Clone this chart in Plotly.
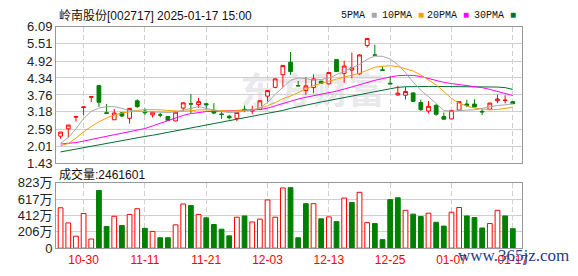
import plotly.graph_objects as go

dates = ["10-25","10-28","10-29","10-30","10-31","11-01","11-04","11-05","11-06","11-07",
         "11-08","11-11","11-12","11-13","11-14","11-15","11-18","11-19","11-20","11-21",
         "11-22","11-25","11-26","11-27","11-28","11-29","12-02","12-03","12-04","12-05",
         "12-06","12-09","12-10","12-11","12-12","12-13","12-16","12-17","12-18","12-19",
         "12-20","12-23","12-24","12-25","12-26","12-27","12-30","12-31","01-02","01-03",
         "01-06","01-07","01-08","01-09","01-10","01-13","01-14","01-15","01-16","01-17"]

opens  = [2.35,2.60,3.00,3.33,3.68,4.08,3.15,2.91,3.15,2.96,
          3.56,3.21,3.08,3.08,3.02,2.87,3.31,3.46,3.43,3.46,
          3.23,3.11,3.03,2.96,3.27,3.21,3.26,3.72,4.02,4.45,
          4.88,4.08,3.91,4.01,4.23,4.14,4.97,4.50,4.61,4.48,
          5.45,5.13,4.62,4.16,3.76,3.75,3.83,3.50,3.21,3.40,
          3.02,2.94,3.24,3.45,3.45,3.20,3.27,3.56,3.57,3.53]
highs  = [2.49,2.73,3.03,3.35,3.70,4.08,3.45,3.28,3.16,3.31,
          3.61,3.30,3.18,3.15,3.03,3.18,3.50,3.79,3.66,3.48,
          3.48,3.18,3.08,3.17,3.40,3.39,3.57,3.92,4.32,4.78,
          5.23,4.24,4.37,4.46,4.24,4.54,4.99,4.93,5.21,5.15,
          5.70,5.48,4.74,4.40,4.07,4.03,3.84,3.60,3.55,3.45,
          3.16,3.24,3.54,3.60,3.61,3.27,3.50,3.77,3.75,3.55]
lows   = [2.26,2.30,2.85,3.07,3.51,3.35,3.13,2.91,3.00,2.78,
          3.32,3.07,2.99,2.99,2.88,2.86,3.21,3.14,3.32,3.27,
          3.10,2.94,2.92,2.86,3.17,3.10,3.24,3.53,3.99,4.02,
          4.45,4.07,3.77,3.82,4.14,4.12,4.55,4.18,4.33,4.45,
          5.38,5.12,4.58,4.13,3.73,3.60,3.53,3.21,3.13,3.05,
          2.93,2.93,3.23,3.34,3.34,3.07,3.26,3.48,3.47,3.45]
closes = [2.49,2.73,3.02,3.35,3.70,3.51,3.13,3.14,3.04,3.30,
          3.36,3.15,3.17,3.07,2.89,3.17,3.49,3.45,3.53,3.42,
          3.14,3.09,2.98,3.16,3.24,3.26,3.56,3.91,4.31,4.77,
          4.56,4.07,4.07,4.31,4.16,4.53,4.56,4.75,4.69,5.13,
          5.69,5.12,4.60,4.14,3.82,3.88,3.54,3.26,3.37,3.10,
          2.93,3.23,3.53,3.40,3.35,3.18,3.48,3.62,3.58,3.46]

ma5  = [2.11,2.30,2.60,2.95,3.20,3.31,3.36,3.36,3.30,3.23,
        3.20,3.19,3.18,3.17,3.16,3.18,3.24,3.32,3.36,3.30,
        3.24,3.19,3.16,3.17,3.21,3.24,3.32,3.50,3.78,4.03,
        4.26,4.34,4.32,4.27,4.29,4.34,4.46,4.58,4.68,4.80,
        4.98,5.09,5.08,4.99,4.80,4.52,4.20,3.92,3.70,3.45,
        3.23,3.20,3.23,3.24,3.25,3.30,3.36,3.40,3.42,3.46]
ma10 = [2.02,2.10,2.28,2.50,2.68,2.84,2.97,3.07,3.14,3.19,
        3.23,3.26,3.26,3.25,3.23,3.21,3.20,3.22,3.25,3.25,
        3.23,3.21,3.21,3.22,3.23,3.25,3.31,3.39,3.50,3.63,
        3.72,3.84,3.98,4.08,4.16,4.22,4.30,4.37,4.43,4.50,
        4.60,4.71,4.74,4.76,4.73,4.66,4.58,4.44,4.26,4.10,
        3.88,3.64,3.48,3.38,3.31,3.27,3.25,3.26,3.30,3.34]
ma20 = [2.08,2.10,2.13,2.18,2.24,2.29,2.34,2.40,2.45,2.50,
        2.55,2.61,2.70,2.79,2.88,2.97,3.06,3.12,3.16,3.19,
        3.20,3.21,3.21,3.21,3.22,3.23,3.26,3.31,3.39,3.48,
        3.56,3.62,3.68,3.73,3.78,3.83,3.89,3.96,4.04,4.11,
        4.18,4.26,4.32,4.38,4.42,4.43,4.43,4.39,4.32,4.25,
        4.19,4.15,4.12,4.09,4.05,4.01,3.95,3.88,3.81,3.74]
ma30 = [1.81,1.86,1.91,1.96,2.01,2.05,2.10,2.14,2.19,2.24,
        2.29,2.34,2.38,2.43,2.47,2.52,2.57,2.62,2.67,2.72,
        2.76,2.81,2.86,2.91,2.96,3.01,3.06,3.11,3.17,3.23,
        3.30,3.36,3.42,3.47,3.52,3.57,3.62,3.67,3.73,3.78,
        3.84,3.89,3.93,3.98,4.02,4.04,4.05,4.05,4.05,4.05,
        4.05,4.05,4.05,4.05,4.05,4.05,4.04,4.03,4.01,3.95]

# volume in 万 shares
volumes = [509,318,151,437,115,728,274,402,286,425,
           497,250,211,131,131,294,557,537,425,382,
           298,239,155,390,406,330,366,608,390,759,
           763,131,561,561,370,394,334,632,577,704,
           322,310,107,612,636,477,429,398,441,326,
           278,453,513,406,386,254,310,477,406,246]
vol_up = [1,1,1,1,1,0,0,1,0,1,
          1,0,1,0,0,1,1,0,1,0,
          0,0,0,1,0,1,1,1,1,1,
          0,0,0,1,0,1,0,1,0,1,
          1,0,0,0,0,1,0,0,1,0,
          0,1,1,0,0,0,1,1,0,0]

price_ticks = [1.43, 2.01, 2.59, 3.18, 3.76, 4.34, 4.92, 5.51, 6.09]
price_ticktext = ["1.43", "2.01", "2.59", "3.18", "3.76", "4.34", "4.92", "5.51", "6.09"]
vol_ticks = [0, 206, 412, 617, 823]
vol_ticktext = ["0", "206万", "412万", "617万", "823万"]
date_ticks = ["10-30", "11-11", "11-21", "12-03", "12-13", "12-25", "01-07", "01-17"]

title_text = "岭南股份[002717] 2025-01-17 15:00"
vol_label = "成交量:2461601"
ma_names = ["5PMA", "10PMA", "20PMA", "30PMA"]
ma_colors = ["#a6a6a6", "#f5a000", "#ff00ff", "#006e32"]

RED = "#ff0000"
GREEN = "#008000"
GRID = "#cfcfcf"
FRAME = "#999999"

W, H = 578, 276
L, R = 56, 56
main_top, main_bot = 21, 165
vol_top, vol_bot = 186, 255

fig = go.Figure()

fig.add_trace(go.Candlestick(
    x=dates, open=opens, high=highs, low=lows, close=closes,
    increasing=dict(line=dict(color=RED, width=1), fillcolor="white"),
    decreasing=dict(line=dict(color=GREEN, width=1), fillcolor=GREEN),
    whiskerwidth=0, showlegend=False, hoverinfo="skip",
    xaxis="x", yaxis="y"))

for vals, col in zip([ma30, ma20, ma10, ma5], ma_colors[::-1]):
    fig.add_trace(go.Scatter(x=dates, y=vals, mode="lines",
                             line=dict(color=col, width=1),
                             showlegend=False, hoverinfo="skip",
                             xaxis="x", yaxis="y"))

up_x = [d for d, u in zip(dates, vol_up) if u]
up_v = [v for v, u in zip(volumes, vol_up) if u]
dn_x = [d for d, u in zip(dates, vol_up) if not u]
dn_v = [v for v, u in zip(volumes, vol_up) if not u]
fig.add_trace(go.Bar(x=up_x, y=up_v, width=0.62,
                     marker=dict(color="white", line=dict(color=RED, width=1)),
                     showlegend=False, hoverinfo="skip", xaxis="x2", yaxis="y2"))
fig.add_trace(go.Bar(x=dn_x, y=dn_v, width=0.62,
                     marker=dict(color=GREEN, line=dict(color=GREEN, width=1)),
                     showlegend=False, hoverinfo="skip", xaxis="x2", yaxis="y2"))

def py(px):
    return 1 - px / H

def pxx(px):
    return (px - L) / (W - L - R)

xcommon = dict(type="category", categoryorder="array", categoryarray=dates,
               range=[-0.6, 60.2], tickvals=date_ticks, ticktext=date_ticks,
               showgrid=True, gridcolor=GRID, gridwidth=1, griddash="5px,3px",
               showline=True, mirror=True, linecolor=FRAME, linewidth=1,
               ticks="", zeroline=False, fixedrange=True)

fig.update_layout(
    width=W, height=H,
    margin=dict(l=L, r=R, t=0, b=0),
    paper_bgcolor="white", plot_bgcolor="white",
    barmode="overlay",
    xaxis=dict(domain=[0, 1], anchor="y", showticklabels=False,
               rangeslider=dict(visible=False), **xcommon),
    yaxis=dict(domain=[py(main_bot), py(main_top)], anchor="x",
               range=[1.43, 6.09], tickvals=price_ticks, ticktext=price_ticktext,
               showgrid=True, gridcolor=GRID, gridwidth=1,
               showline=True, mirror=True, linecolor=FRAME, linewidth=1,
               zeroline=False, ticks="",
               tickfont=dict(family="Liberation Sans", size=13, color="#222")),
    xaxis2=dict(domain=[0, 1], anchor="y2", showticklabels=True,
                tickfont=dict(family="Liberation Sans", size=12, color=RED),
                **xcommon),
    yaxis2=dict(domain=[py(vol_bot), py(vol_top)], anchor="x2",
                range=[0, 823], tickvals=vol_ticks, ticktext=vol_ticktext,
                showgrid=True, gridcolor=GRID, gridwidth=1,
                showline=True, mirror=True, linecolor=FRAME, linewidth=1,
                zeroline=False, ticks="",
                tickfont=dict(family="Liberation Sans, Noto Sans CJK SC", size=13, color="#222")),
)

# watermark (behind the data)
fig.add_shape(type="rect", xref="paper", yref="paper",
              x0=pxx(235), x1=pxx(390), y0=py(112), y1=py(72),
              line=dict(width=0), fillcolor="rgba(0,0,0,0)", layer="below",
              label=dict(text="<b>东方财富</b>", textposition="middle center",
                         font=dict(family="Noto Sans CJK SC", size=36, color="#e9e9ec")))

ann = []
ann.append(dict(text=title_text, x=pxx(57), y=py(9), xref="paper", yref="paper",
                xanchor="left", yanchor="middle", showarrow=False,
                font=dict(family="Liberation Sans, Noto Sans CJK SC", size=12, color="#111")))
ann.append(dict(text=vol_label, x=pxx(57), y=py(177), xref="paper", yref="paper",
                xanchor="left", yanchor="middle", showarrow=False,
                font=dict(family="Liberation Sans, Noto Sans CJK SC", size=12, color="#111")))
leg_x = [339, 380, 425, 472]
for name, col, lx in zip(ma_names, ma_colors, leg_x):
    ann.append(dict(text=name + ' <span style="color:%s">■</span>' % col,
                    x=pxx(lx), y=py(9), xref="paper", yref="paper",
                    xanchor="left", yanchor="middle", showarrow=False,
                    font=dict(family="Liberation Mono", size=10, color="#111")))
ann.append(dict(text="www.365jz.com", x=pxx(513), y=py(263), xref="paper", yref="paper",
                xanchor="center", yanchor="middle", showarrow=False,
                font=dict(family="Liberation Serif", size=17, color="#1f3d86")))
fig.update_layout(annotations=ann)

fig.write_html("out.html")
